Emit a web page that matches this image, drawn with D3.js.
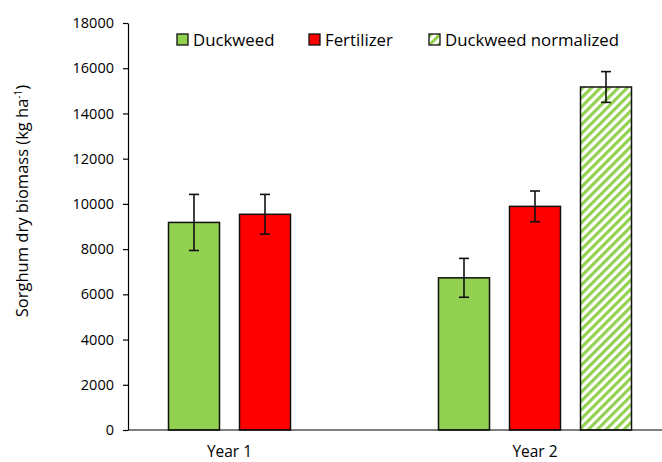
<!DOCTYPE html>
<html>
<head>
<meta charset="utf-8">
<script src="https://cdn.jsdelivr.net/npm/d3@7"></script>
<style>
  html, body { margin: 0; padding: 0; background: #fff; }
  svg { display: block; font-family: "Open Sans", "Noto Sans", sans-serif; }
</style>
</head>
<body>
<svg id="chart" width="662" height="462"></svg>
<script>
// Sorghum dry biomass by year and nutrient source
const categories = ["Year 1", "Year 2"];
const seriesNames = ["Duckweed", "Fertilizer", "Duckweed normalized"];
const duckweed = [9180, 6730];
const fertilizer = [9540, 9890];
const duckweedNormalized = [null, 15170];
const duckweedErr = [1240, 860];
const fertilizerErr = [880, 680];
const duckweedNormalizedErr = [null, 680];
const yTicks = [0, 2000, 4000, 6000, 8000, 10000, 12000, 14000, 16000, 18000];

const seriesValues = [duckweed, fertilizer, duckweedNormalized];
const seriesErrors = [duckweedErr, fertilizerErr, duckweedNormalizedErr];

const svg = d3.select("#chart");
const W = 662;
const axisX = 128;
const plot = { left: 130, right: 670, top: 23, bottom: 430 };

const defs = svg.append("defs");
const P = 6.3;
const hatch = defs.append("pattern")
  .attr("id", "hatch")
  .attr("patternUnits", "userSpaceOnUse")
  .attr("width", P).attr("height", P)
  .attr("patternTransform", "rotate(45)");
hatch.append("rect").attr("width", P).attr("height", P).attr("fill", "#fff");
hatch.append("rect").attr("x", 0).attr("y", 0).attr("width", P * 0.5).attr("height", P).attr("fill", "#92d050");

const fills = ["#92d050", "#ff0000", "url(#hatch)"];

const y = d3.scaleLinear().domain([0, 18000]).range([plot.bottom, plot.top]);
const x0 = d3.scaleBand().domain(categories).range([plot.left, plot.right]);
const groupPad = 38.5;
const x1 = d3.scaleBand().domain(seriesNames)
  .range([groupPad, x0.bandwidth() - groupPad])
  .paddingInner(20 / 71).paddingOuter(0);

// bar records
const bars = [];
categories.forEach((c, ci) => {
  seriesNames.forEach((s, si) => {
    const v = seriesValues[si][ci];
    if (v == null) return;
    bars.push({ cat: c, series: s, si, value: v, err: seriesErrors[si][ci] });
  });
});

// y axis
const yAxis = d3.axisLeft(y).tickValues(yTicks).tickFormat(d3.format("d"))
  .tickSize(5).tickSizeOuter(0).tickPadding(9);
const gy = svg.append("g").attr("transform", `translate(${axisX},0)`).call(yAxis);
gy.select(".domain").attr("stroke", "#000").attr("stroke-width", 1.2);
gy.selectAll(".tick line").attr("stroke", "#000").attr("stroke-width", 1.2);
gy.selectAll(".tick text").attr("font-size", 14.5).attr("fill", "#000")
  .attr("font-family", '"Open Sans", sans-serif');

// bars
svg.append("g").selectAll("rect").data(bars).join("rect")
  .attr("x", d => x0(d.cat) + x1(d.series))
  .attr("y", d => y(d.value))
  .attr("width", x1.bandwidth())
  .attr("height", d => y(0) - y(d.value))
  .attr("fill", d => fills[d.si])
  .attr("stroke", "#111")
  .attr("stroke-width", 1.5);

// x axis baseline
svg.append("line")
  .attr("x1", axisX).attr("x2", W)
  .attr("y1", y(0)).attr("y2", y(0))
  .attr("stroke", "#000").attr("stroke-width", 1.2);

// error bars
const eg = svg.append("g").attr("stroke", "#111").attr("stroke-width", 1.6);
bars.forEach(d => {
  const cx = x0(d.cat) + x1(d.series) + x1.bandwidth() / 2;
  const t = y(d.value + d.err), b = y(d.value - d.err);
  eg.append("line").attr("x1", cx).attr("x2", cx).attr("y1", t).attr("y2", b);
  eg.append("line").attr("x1", cx - 5).attr("x2", cx + 5).attr("y1", t).attr("y2", t);
  eg.append("line").attr("x1", cx - 5).attr("x2", cx + 5).attr("y1", b).attr("y2", b);
});

// category labels, centred under the bars each category holds
categories.forEach(c => {
  const these = bars.filter(d => d.cat === c);
  const lo = d3.min(these, d => x0(c) + x1(d.series));
  const hi = d3.max(these, d => x0(c) + x1(d.series) + x1.bandwidth());
  svg.append("text")
    .attr("x", (lo + hi) / 2).attr("y", 457)
    .attr("text-anchor", "middle")
    .attr("font-size", 15.5).attr("fill", "#000")
    .text(c);
});

// y axis title
const title = svg.append("text")
  .attr("transform", "translate(28,201) rotate(-90)")
  .attr("text-anchor", "middle")
  .attr("font-size", 16.5).attr("fill", "#000");
title.append("tspan").text("Sorghum dry biomass (kg ha");
title.append("tspan").attr("dy", -6).attr("font-size", 10).text("-1");
title.append("tspan").attr("dy", 6).text(")");

// legend
const legendX = [177, 309, 429];
const lg = svg.append("g");
seriesNames.forEach((s, i) => {
  lg.append("rect")
    .attr("x", legendX[i]).attr("y", 34)
    .attr("width", 11).attr("height", 11)
    .attr("fill", fills[i]).attr("stroke", "#111").attr("stroke-width", 1.3);
  lg.append("text")
    .attr("x", legendX[i] + 16).attr("y", 45.5)
    .attr("font-size", 16.8).attr("fill", "#000")
    .text(s);
});
</script>
</body>
</html>
